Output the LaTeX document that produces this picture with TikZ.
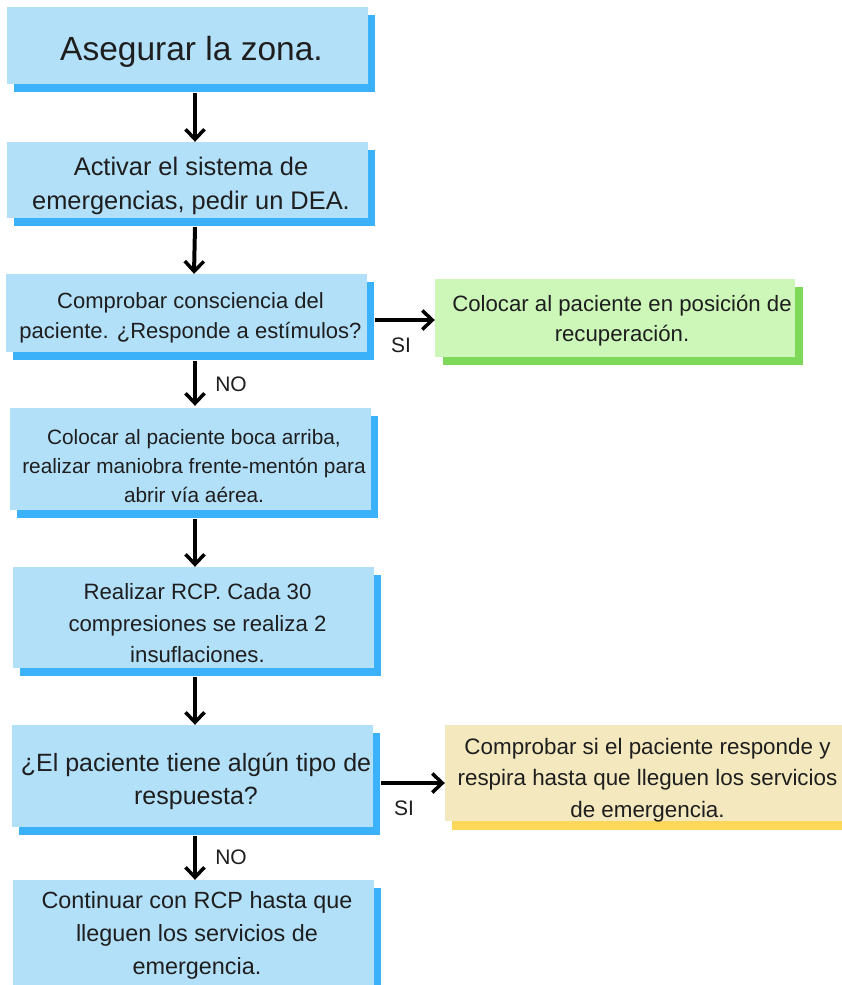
\documentclass[tikz,border=0pt]{standalone}
\usepackage{fontspec}
\setmainfont{Liberation Sans}
\usetikzlibrary{arrows.meta,shadows}
\definecolor{bfill}{HTML}{B3E0F9}
\definecolor{bshad}{HTML}{3BB1F9}
\definecolor{gfill}{HTML}{CDF7B9}
\definecolor{gshad}{HTML}{7DD957}
\definecolor{yfill}{HTML}{F4E9BE}
\definecolor{yshad}{HTML}{FDD75A}
\definecolor{txt}{HTML}{1E1E1E}
\newcommand{\fs}[2]{\fontsize{#1}{#2}\selectfont}
\begin{document}
\begin{tikzpicture}[x=1pt,y=-1pt,
  box/.style={rectangle, inner sep=0pt},
  bluebox/.style={box, fill=bfill, minimum width=361pt,
     drop shadow={shadow xshift=7pt, shadow yshift=-8pt, fill=bshad, opacity=1}},
  greenbox/.style={box, fill=gfill, minimum width=360pt,
     drop shadow={shadow xshift=8pt, shadow yshift=-8pt, fill=gshad, opacity=1}},
  yellowbox/.style={box, fill=yfill, minimum width=405pt,
     drop shadow={shadow xshift=7pt, shadow yshift=-9pt, fill=yshad, opacity=1}},
  tx/.style={align=center, text=txt, inner sep=0pt},
  arr/.style={line width=4pt, -{Straight Barb[length=10pt,width=19pt,line width=3.5pt]}},
  lab/.style={font=\fs{21}{24}, text=txt, inner sep=0pt}]
\fill[white] (0,0) rectangle (841,985);
\useasboundingbox (0,0) rectangle (841,985);

% boxes
\node[bluebox, minimum height=77pt] (b1) at (187.5,45.5) {};
\node[bluebox, minimum height=76pt] (b2) at (187.5,180) {};
\node[bluebox, minimum height=78pt] (b3) at (186.5,313) {};
\node[greenbox, minimum height=78pt] (g) at (615,318) {};
\node[bluebox, minimum height=102pt] (b4) at (190.5,459) {};
\node[bluebox, minimum height=101pt] (b5) at (193,617.5) {};
\node[bluebox, minimum height=102pt] (b6) at (192.5,776) {};
\node[yellowbox, minimum height=96pt] (y) at (647.5,773) {};
\node[bluebox, minimum height=110pt] (b7) at (193.5,935) {};

% texts
\node[tx, font=\fs{33.5}{40}] (t1) at ([xshift=4pt,yshift=-6pt]b1.center) {Asegurar la zona.};
\node[tx, font=\fs{25.4}{34}] (t2) at ([xshift=3.5pt,yshift=-6pt]b2.center) {Activar el sistema de\\emergencias, pedir un DEA.};
\node[tx, font=\fs{22}{30}] (t3) at ([xshift=4pt,yshift=-5pt]b3.center) {Comprobar consciencia del\\paciente. ¿Responde a estímulos?};
\node[tx, font=\fs{22.2}{30}] (tg) at ([xshift=7pt,yshift=-3pt]g.center) {Colocar al paciente en posición de\\recuperación.};
\node[tx, font=\fs{20.8}{29}] (t4) at ([xshift=3.5pt,yshift=-7pt]b4.center) {Colocar al paciente boca arriba,\\realizar maniobra frente-mentón para\\abrir vía aérea.};
\node[tx, font=\fs{22.2}{31.5}] (t5) at ([xshift=4.5pt,yshift=-6pt]b5.center) {Realizar RCP. Cada 30\\compresiones se realiza 2\\insuflaciones.};
\node[tx, font=\fs{25}{33}] (t6) at ([xshift=3.5pt,yshift=-5pt]b6.center) {¿El paciente tiene algún tipo de\\respuesta?};
\node[tx, font=\fs{22.4}{31.5}] (ty) at ([xshift=0pt,yshift=-7pt]y.center) {Comprobar si el paciente responde y\\respira hasta que lleguen los servicios\\de emergencia.};
\node[tx, font=\fs{23.4}{33}] (t7) at ([xshift=3.5pt,yshift=0pt]b7.center) {Continuar con RCP hasta que\\lleguen los servicios de\\emergencia.};

% connectors
\draw[arr] ([xshift=7.5pt,yshift=-9pt]b1.south) -- ([xshift=7.5pt]b2.north);
\draw[arr] ([xshift=7.5pt,yshift=-9pt]b2.south) -- ([xshift=7.5pt]b3.north);
\draw[arr] ([xshift=8.5pt,yshift=-9pt]b3.south) -- ([xshift=4.5pt,yshift=2pt]b4.north);
\draw[arr] ([xshift=4.5pt,yshift=-9pt]b4.south) -- ([xshift=2pt]b5.north);
\draw[arr] ([xshift=2pt,yshift=-9pt]b5.south) -- ([xshift=2.5pt]b6.north);
\draw[arr] ([xshift=2.5pt,yshift=-9pt]b6.south) -- ([xshift=1.5pt]b7.north);
\coordinate (s1) at ([xshift=8pt,yshift=-7pt]b3.east);
\draw[arr] (s1) -- (s1 -| g.west);
\coordinate (s2) at ([xshift=8pt,yshift=-7pt]b6.east);
\draw[arr] (s2) -- (s2 -| y.west);

\node[lab] (si1) at (401,345) {SI};
\node[lab] (no1) at (231,384) {NO};
\node[lab] (si2) at (404,808) {SI};
\node[lab] (no2) at (231,857) {NO};
\end{tikzpicture}
\end{document}
